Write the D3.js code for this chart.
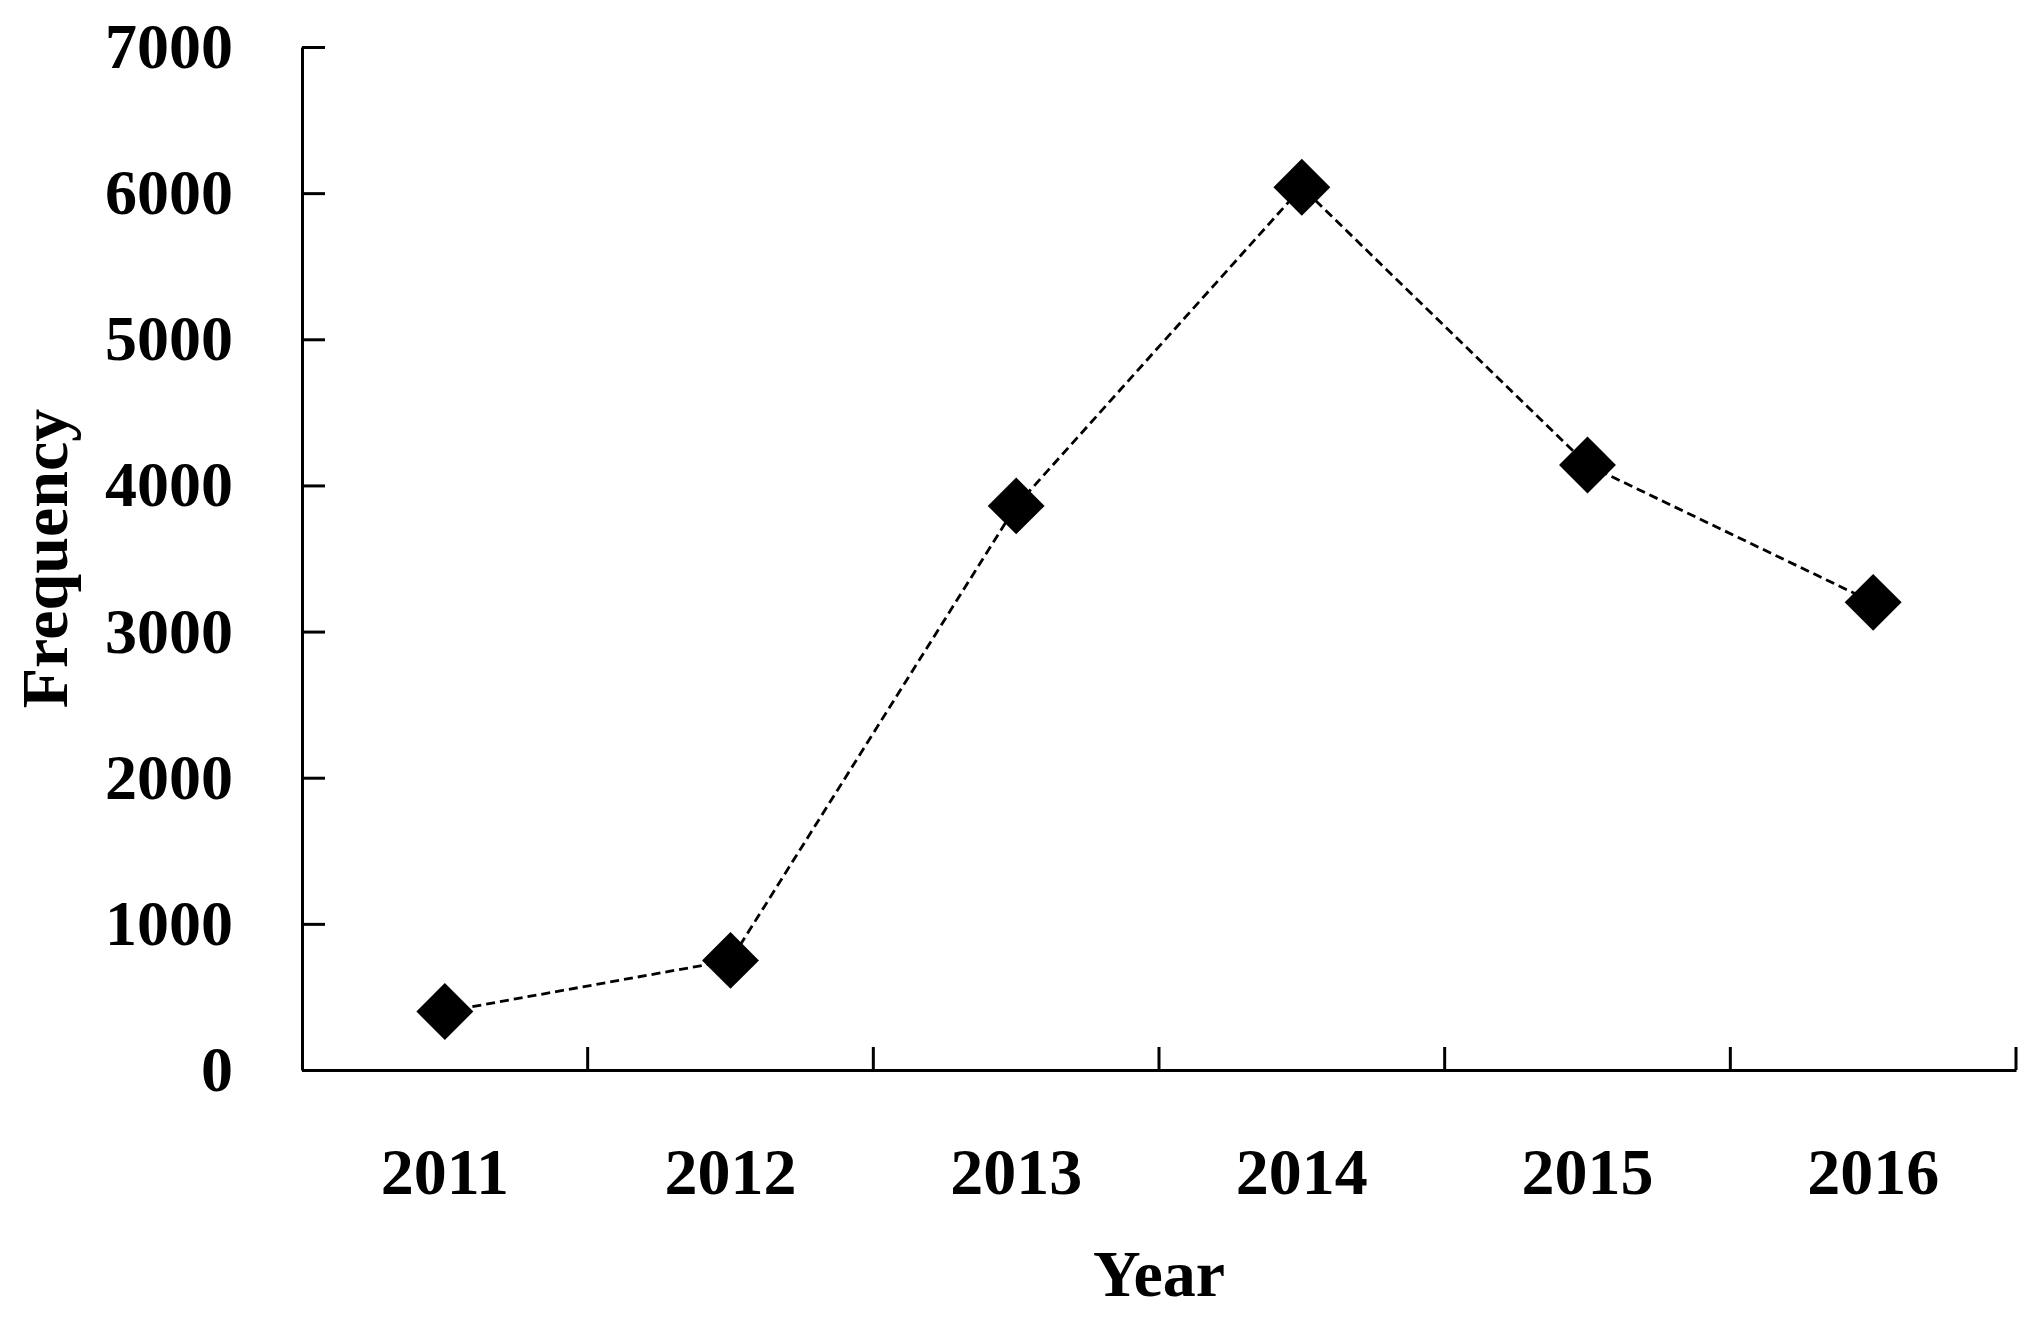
<!DOCTYPE html>
<html lang="en">
<head>
<meta charset="utf-8">
<title>Frequency by year</title>
<script src="https://cdn.jsdelivr.net/npm/d3@7"></script>
<style>
  body { margin: 0; background: #fff; }
  text { font-family: "Palatino Linotype", "Book Antiqua", Palatino, "Liberation Serif", serif; font-weight: bold; fill: #000; }
  .axis path, .axis line { stroke: #000; stroke-width: 3px; }
</style>
</head>
<body>
<div id="chart"></div>
<script>
// data
var years = ["2011", "2012", "2013", "2014", "2015", "2016"];
var frequency = [400, 750, 3860, 6040, 4140, 3200];
var yTicks = [0, 1000, 2000, 3000, 4000, 5000, 6000, 7000];

// canvas size and plot box
var width = 2039, height = 1321;
var margin = {top: 47, right: 23, bottom: 251, left: 302};
var plotW = width - margin.left - margin.right,
    plotH = height - margin.top - margin.bottom;

var svg = d3.select("#chart")
  .append("svg")
  .attr("width", width)
  .attr("height", height);

svg.append("rect")
  .attr("width", width)
  .attr("height", height)
  .attr("fill", "#fff");

var g = svg.append("g")
  .attr("transform", "translate(" + margin.left + "," + margin.top + ")");

// scales
var x = d3.scaleBand()
  .domain(years)
  .range([0, plotW])
  .padding(0);

var y = d3.scaleLinear()
  .domain([0, 7000])
  .range([plotH, 0]);

// y axis, ticks pointing inwards
var yAxis = g.append("g")
  .attr("class", "axis")
  .call(d3.axisLeft(y)
    .tickValues(yTicks)
    .tickSizeInner(-23)
    .tickSizeOuter(0)
    .tickPadding(69)
    .tickFormat(d3.format("d")));

yAxis.selectAll("text")
  .style("font-size", "64px");

// x axis, labels centred in each band
var xAxis = g.append("g")
  .attr("class", "axis")
  .attr("transform", "translate(0," + plotH + ")")
  .call(d3.axisBottom(x)
    .tickSizeInner(0)
    .tickSizeOuter(0)
    .tickPadding(77));

xAxis.selectAll("text")
  .style("font-size", "66px");

// boundary ticks between the years
xAxis.selectAll(".boundary")
  .data(years)
  .enter()
  .append("line")
  .attr("class", "boundary")
  .attr("x1", function(d) { return x(d) + x.bandwidth(); })
  .attr("x2", function(d) { return x(d) + x.bandwidth(); })
  .attr("y1", 0)
  .attr("y2", -23)
  .attr("stroke", "#000")
  .attr("stroke-width", 3);

// dashed line
var points = years.map(function(d, i) { return {year: d, value: frequency[i]}; });

var line = d3.line()
  .x(function(d) { return x(d.year) + x.bandwidth() / 2; })
  .y(function(d) { return y(d.value); });

g.append("path")
  .datum(points)
  .attr("d", line)
  .attr("fill", "none")
  .attr("stroke", "#000")
  .attr("stroke-width", 2.8)
  .attr("stroke-dasharray", "9,5");

// diamond markers
var diamond = d3.symbol().type(d3.symbolSquare).size(1620);

g.selectAll(".marker")
  .data(points)
  .enter()
  .append("path")
  .attr("class", "marker")
  .attr("d", diamond)
  .attr("fill", "#000")
  .attr("transform", function(d) {
    return "translate(" + (x(d.year) + x.bandwidth() / 2) + "," + y(d.value) + ") rotate(45)";
  });

// axis titles
svg.append("text")
  .attr("x", margin.left + plotW / 2)
  .attr("y", 1296)
  .attr("text-anchor", "middle")
  .style("font-size", "66px")
  .text("Year");

svg.append("text")
  .attr("transform", "translate(67," + (margin.top + plotH / 2) + ") rotate(-90)")
  .attr("text-anchor", "middle")
  .style("font-size", "66px")
  .text("Frequency");
</script>
</body>
</html>
